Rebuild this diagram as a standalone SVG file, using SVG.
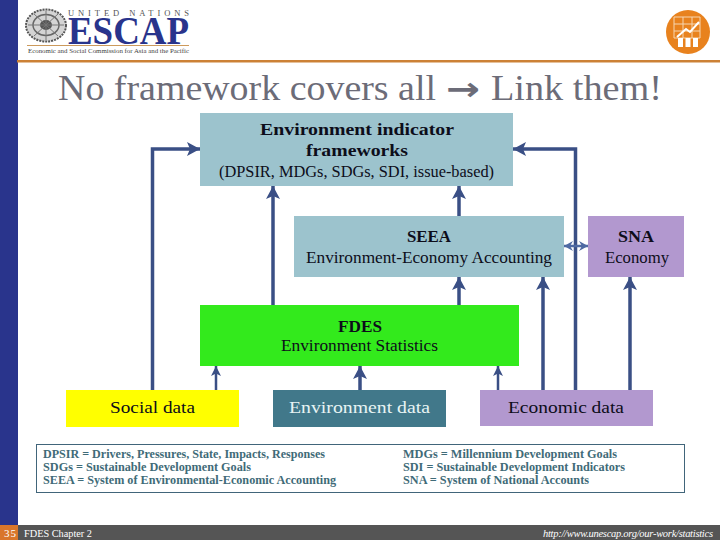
<svg xmlns="http://www.w3.org/2000/svg" width="720" height="540" viewBox="0 0 720 540">
<style>
text{font-family:"Liberation Serif","DejaVu Serif",serif;fill:#0d0d1a}
.b{font-weight:bold}
.n{font-size:16px}
.h{font-size:17.5px;font-weight:bold}
.k{font-size:12px;fill:#3f6b78;font-weight:bold}
.w{fill:none;stroke:#3a4f85;stroke-width:3.5}
.t{fill:none;stroke:#3a4f85;stroke-width:2.5}
</style>
<defs>
<marker id="a" markerUnits="userSpaceOnUse" markerWidth="16" markerHeight="16" refX="14" refY="8" orient="auto"><path d="M14 8 L1 1 L4 8 L1 15Z" fill="#3a4f85"/></marker>
<marker id="s" markerUnits="userSpaceOnUse" markerWidth="12" markerHeight="12" refX="11" refY="6" orient="auto"><path d="M11 6 L1 1 L3.500 6 L1 11Z" fill="#3a4f85"/></marker>
<marker id="d" markerUnits="userSpaceOnUse" markerWidth="12" markerHeight="12" refX="11" refY="6" orient="auto-start-reverse"><path d="M11 6 L2 1 L5 6 L2 11Z" fill="#4f6aa3"/></marker>
</defs>
<rect width="720" height="540" fill="#fff"/>
<rect width="18" height="540" fill="#29348c"/>
<rect x="17" y="60" width="703" height="2.500" fill="#cc8136"/>
<g id="logo">
<ellipse cx="46" cy="25.500" rx="20" ry="16" fill="#d4d4d4" stroke="#555" stroke-width="2" stroke-dasharray="2 1"/>
<ellipse cx="46" cy="25" rx="13" ry="10.500" fill="none" stroke="#666" stroke-width="1.500"/>
<ellipse cx="46" cy="25" rx="6" ry="5" fill="#555"/>
<path d="M28 25H64M46 11V40M34 14L58 36M58 14L34 36" stroke="#777" stroke-width="1"/>
<text x="68" y="16" font-size="8.500" textLength="121" lengthAdjust="spacing" style="fill:#555">UNITED NATIONS</text>
<text x="68" y="44" font-size="40" class="b" textLength="121" lengthAdjust="spacingAndGlyphs" style="fill:#29348c">ESCAP</text>
<rect x="27" y="45" width="162" height="1" fill="#cc9a5c"/>
<text x="28" y="52.500" font-size="6" textLength="161" lengthAdjust="spacingAndGlyphs" style="fill:#444">Economic and Social Commission for Asia and the Pacific</text>
</g>
<g id="badge">
<circle cx="688" cy="32" r="22" fill="#e8821e"/>
<path d="M674 17H700V38H674ZM683 17V38M692 17V38M674 24H700M674 31H700" fill="none" stroke="#f6d5b0" stroke-width="1"/>
<path d="M677 37L686 29L690 32L699 22" fill="none" stroke="#fff" stroke-width="2"/>
<path d="M678 38h5v9h-5zM685.500 38h5v9h-5zM693 38h5v9h-5z" fill="#fff"/>
</g>
<text id="title" y="100" font-size="36" style="fill:#6c6c78"><tspan x="58" textLength="378" lengthAdjust="spacingAndGlyphs">No framework covers all</tspan><tspan x="446" style="font-family:'DejaVu Sans',sans-serif" font-size="32" font-weight="bold" textLength="34" lengthAdjust="spacingAndGlyphs">→</tspan><tspan x="491" textLength="171" lengthAdjust="spacingAndGlyphs">Link them!</tspan></text>
<g id="connectors">
<path class="w" d="M152.500 390V149H200" marker-end="url(#a)"/>
<path class="w" d="M273 305V186" marker-end="url(#a)"/>
<path class="w" d="M459 216V186" marker-end="url(#a)"/>
<path class="w" d="M459 305V277" marker-end="url(#a)"/>
<path class="w" d="M543 390V277" marker-end="url(#a)"/>
<path class="w" d="M575.500 390V149H513" marker-end="url(#a)"/>
<path class="w" d="M630 390V277" marker-end="url(#a)"/>
<path d="M564 246H588" fill="none" stroke="#4f6aa3" stroke-width="2.500" marker-start="url(#d)" marker-end="url(#d)"/>
<path class="t" d="M216 390V366" marker-end="url(#s)"/>
<path class="w" d="M360 390V366" marker-end="url(#a)"/>
<path class="t" d="M498 390V366" marker-end="url(#s)"/>
</g>
<g id="frameworks">
<rect x="200" y="113" width="313" height="73" fill="#9cc3cd"/>
<text class="h" x="260" y="135" textLength="194" lengthAdjust="spacingAndGlyphs">Environment indicator</text>
<text class="h" x="306" y="156" textLength="102" lengthAdjust="spacingAndGlyphs">frameworks</text>
<text class="n" x="219" y="177" textLength="275" lengthAdjust="spacingAndGlyphs">(DPSIR, MDGs, SDGs, SDI, issue-based)</text>
</g>
<g id="seea">
<rect x="294" y="216" width="270" height="61" fill="#9cc3cd"/>
<text class="h" x="407" y="242" textLength="44" lengthAdjust="spacingAndGlyphs">SEEA</text>
<text class="n" x="306" y="263" textLength="246" lengthAdjust="spacingAndGlyphs">Environment-Economy Accounting</text>
</g>
<g id="sna">
<rect x="588" y="216" width="96" height="61" fill="#b298cf"/>
<text class="h" x="618" y="242" textLength="36" lengthAdjust="spacingAndGlyphs">SNA</text>
<text class="n" x="605" y="263" textLength="64" lengthAdjust="spacingAndGlyphs">Economy</text>
</g>
<g id="fdes">
<rect x="200" y="305" width="319" height="61" fill="#33ea1c"/>
<text class="h" x="338" y="332" textLength="44" lengthAdjust="spacingAndGlyphs">FDES</text>
<text class="n" x="281" y="351" textLength="157" lengthAdjust="spacingAndGlyphs">Environment Statistics</text>
</g>
<g id="social">
<rect x="66" y="390" width="173" height="37" fill="#ffff00"/>
<text x="110" y="413" font-size="17" textLength="85" lengthAdjust="spacingAndGlyphs">Social data</text>
</g>
<g id="environment">
<rect x="273" y="390" width="173" height="37" fill="#41788a"/>
<text x="289" y="413" font-size="17" textLength="141" lengthAdjust="spacingAndGlyphs" style="fill:#e8f4f4">Environment data</text>
</g>
<g id="economic">
<rect x="480" y="390" width="173" height="36" fill="#b298cf"/>
<text x="508" y="413" font-size="17" textLength="116" lengthAdjust="spacingAndGlyphs">Economic data</text>
</g>
<g id="key">
<rect x="36.500" y="444.500" width="648" height="48" fill="#fff" stroke="#41657a" stroke-width="1"/>
<text class="k" x="43" y="458" textLength="282" lengthAdjust="spacingAndGlyphs">DPSIR = Drivers, Pressures, State, Impacts, Responses</text>
<text class="k" x="43" y="471" textLength="208" lengthAdjust="spacingAndGlyphs">SDGs = Sustainable Development Goals</text>
<text class="k" x="43" y="484" textLength="293" lengthAdjust="spacingAndGlyphs">SEEA = System of Environmental-Economic Accounting</text>
<text class="k" x="403" y="458" textLength="214" lengthAdjust="spacingAndGlyphs">MDGs = Millennium Development Goals</text>
<text class="k" x="403" y="471" textLength="222" lengthAdjust="spacingAndGlyphs">SDI = Sustainable Development Indicators</text>
<text class="k" x="403" y="484" textLength="186" lengthAdjust="spacingAndGlyphs">SNA = System of National Accounts</text>
</g>
<g id="footer">
<rect y="525" width="720" height="15" fill="#555"/>
<rect y="525" width="18" height="15" fill="#d9762b"/>
<text x="4" y="537" font-size="11" textLength="12" style="fill:#fff">35</text>
<text x="24" y="537" font-size="11" textLength="68" lengthAdjust="spacingAndGlyphs" style="fill:#fff">FDES Chapter 2</text>
<text x="543" y="537" font-size="10.500" font-style="italic" textLength="170" lengthAdjust="spacing" style="fill:#fff">http://www.unescap.org/our-work/statistics</text>
</g>
</svg>
